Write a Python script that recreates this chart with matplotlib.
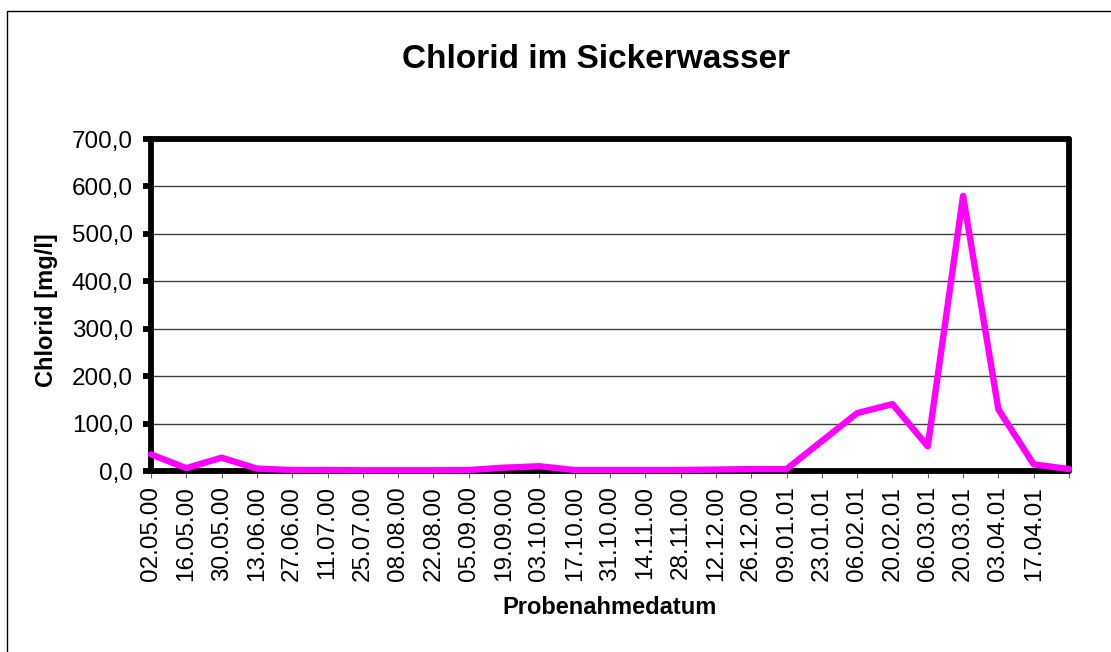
import datetime as dt
import matplotlib
matplotlib.use("Agg")
import matplotlib.pyplot as plt
from matplotlib.patches import Rectangle

plt.rcParams['font.family'] = ['Liberation Sans', 'DejaVu Sans']

# Probenahmetermine und Chloridwerte [mg/l]
dates = ["02.05.00", "16.05.00", "30.05.00", "13.06.00", "27.06.00", "11.07.00",
         "25.07.00", "08.08.00", "22.08.00", "05.09.00", "19.09.00", "03.10.00",
         "17.10.00", "31.10.00", "14.11.00", "28.11.00", "12.12.00", "26.12.00",
         "09.01.01", "06.02.01", "20.02.01", "06.03.01", "20.03.01", "03.04.01",
         "17.04.01", "01.05.01"]
chlorid = [35, 6, 28, 5, 2, 2,
           1.5, 1.5, 1.5, 2, 7, 10,
           2, 2, 2, 2, 3, 4,
           4, 122, 141, 52, 580, 130,
           14, 4]

tick_start = "02.05.00"
tick_end = "01.05.01"
tick_step_days = 14

x = [dt.datetime.strptime(d, "%d.%m.%y") for d in dates]
t0 = dt.datetime.strptime(tick_start, "%d.%m.%y")
t1 = dt.datetime.strptime(tick_end, "%d.%m.%y")
ticks = []
t = t0
while t <= t1:
    ticks.append(t)
    t += dt.timedelta(days=tick_step_days)
tick_labels = [tt.strftime("%d.%m.%y") for tt in ticks[:-1]] + [""]

fig = plt.figure(figsize=(11.11, 6.52), dpi=100)
ax = fig.add_axes([0.1359, 0.2776, 0.8263, 0.5092])

ax.plot(x, chlorid, color="#FF00FF", lw=4.6, solid_joinstyle="round",
        solid_capstyle="round", zorder=3, clip_on=False)

ax.set_xlim(t0, t1)
ax.set_ylim(0, 700)
ax.set_yticks(range(0, 701, 100))
ax.set_yticklabels([f"{v},0" for v in range(0, 701, 100)], fontsize=17.5)
ax.set_xticks(ticks)
ax.set_xticklabels(tick_labels, rotation=90, fontsize=17.5)

ax.grid(axis="y", color="#404040", lw=1)
ax.set_axisbelow(True)
for s in ax.spines.values():
    s.set_linewidth(4.2)
    s.set_color("black")
    s.set_capstyle("round")

ax.tick_params(axis="y", length=6, width=4.2, pad=7, direction="out")
ax.tick_params(axis="x", length=5, width=0.8, color="#606060", pad=6)
for tl in ax.yaxis.get_ticklines():
    tl.set_solid_capstyle("round")

fig.text(0.5365, 0.9095, "Chlorid im Sickerwasser", fontsize=24,
         fontweight="bold", ha="center", va="center")
fig.text(0.0423, 0.5245, "Chlorid [mg/l]", fontsize=17, fontweight="bold",
         rotation=90, ha="center", va="center")
fig.text(0.549, 0.069, "Probenahmedatum", fontsize=17, fontweight="bold",
         ha="center", va="center")

fig.patches.append(Rectangle((7 / 1111, -0.1), 1.2, 1.1 - 11 / 652,
                             transform=fig.transFigure, fill=False,
                             ec="black", lw=1))

fig.savefig("out.png", dpi=100)
